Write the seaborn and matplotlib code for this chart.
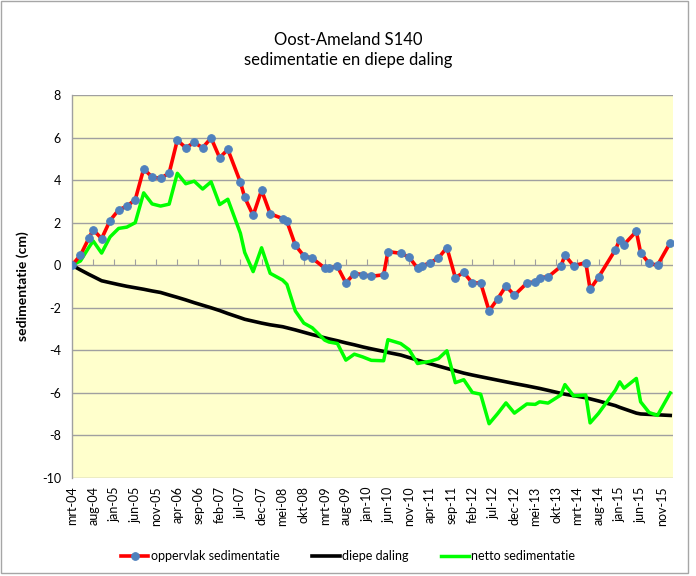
import matplotlib
matplotlib.use("Agg")
import matplotlib.pyplot as plt
import matplotlib.dates as mdates
from matplotlib.patches import Rectangle
import pandas as pd
import seaborn as sns

# Measurement dates (year-month)
dates = [
    "2004-03", "2004-05", "2004-07", "2004-08", "2004-10", "2004-12", "2005-02", "2005-04",
    "2005-06", "2005-08", "2005-10", "2005-12", "2006-02", "2006-04", "2006-06", "2006-08",
    "2006-10", "2006-12", "2007-02", "2007-04", "2007-07", "2007-08", "2007-10", "2007-12",
    "2008-02", "2008-05", "2008-06", "2008-08", "2008-10", "2008-12", "2009-03", "2009-04",
    "2009-06", "2009-08", "2009-10", "2009-12", "2010-02", "2010-05", "2010-06", "2010-09",
    "2010-11", "2011-01", "2011-02", "2011-04", "2011-06", "2011-08", "2011-10", "2011-12",
    "2012-02", "2012-04", "2012-06", "2012-08", "2012-10", "2012-12", "2013-03", "2013-05",
    "2013-06", "2013-08", "2013-11", "2013-12", "2014-02", "2014-05", "2014-06", "2014-08",
    "2014-12", "2015-01", "2015-02", "2015-05", "2015-06", "2015-08", "2015-10", "2016-01",
]

# Surface sedimentation (cm)
oppervlak = [
    0.0, 0.47, 1.27, 1.67, 1.25, 2.1, 2.6, 2.77, 3.08, 4.53, 4.14, 4.08, 4.33, 5.88, 5.52, 5.77,
    5.52, 5.98, 5.05, 5.44, 3.9, 3.19, 2.34, 3.52, 2.42, 2.19, 2.06, 0.94, 0.44, 0.33, -0.13, -0.13,
    -0.06, -0.83, -0.39, -0.44, -0.52, -0.45, 0.64, 0.56, 0.38, -0.14, -0.03, 0.11, 0.34, 0.83,
    -0.58, -0.34, -0.84, -0.83, -2.14, -1.59, -0.98, -1.41, -0.84, -0.78, -0.58, -0.55, -0.06, 0.47,
    -0.02, 0.12, -1.13, -0.56, 0.73, 1.2, 0.97, 1.59, 0.59, 0.09, 0.0, 1.06,
]

# Deep subsidence (cm)
diepe = [
    0.0, -0.22, -0.43, -0.53, -0.73, -0.82, -0.91, -0.99, -1.06, -1.13, -1.21, -1.28, -1.4, -1.51,
    -1.63, -1.76, -1.88, -2.0, -2.13, -2.27, -2.47, -2.54, -2.63, -2.72, -2.8, -2.89, -2.94, -3.04,
    -3.15, -3.26, -3.41, -3.46, -3.55, -3.65, -3.74, -3.84, -3.93, -4.05, -4.1, -4.22, -4.34, -4.46,
    -4.52, -4.63, -4.74, -4.85, -4.96, -5.07, -5.16, -5.24, -5.32, -5.4, -5.48, -5.56, -5.67, -5.75,
    -5.79, -5.88, -6.02, -6.06, -6.13, -6.23, -6.28, -6.38, -6.6, -6.68, -6.75, -6.95, -6.99, -7.01,
    -7.03, -7.06,
]

# Net sedimentation (cm)
netto = [
    0.0, 0.2, 0.84, 1.14, 0.57, 1.33, 1.73, 1.79, 2.0, 3.4, 2.88, 2.78, 2.87, 4.32, 3.83, 3.95,
    3.58, 3.92, 2.85, 3.1, 1.5, 0.6, -0.3, 0.82, -0.38, -0.7, -0.9, -2.15, -2.72, -2.94, -3.52, -3.61,
    -3.68, -4.46, -4.18, -4.31, -4.47, -4.49, -3.5, -3.68, -3.97, -4.62, -4.58, -4.52, -4.39, -4.02,
    -5.52, -5.38, -5.98, -6.06, -7.45, -6.98, -6.47, -6.95, -6.52, -6.54, -6.42, -6.48, -6.1, -5.61,
    -6.14, -6.1, -7.41, -6.96, -5.87, -5.48, -5.78, -5.32, -6.42, -6.92, -7.06, -6.0,
]

maanden = ["jan", "feb", "mrt", "apr", "mei", "jun", "jul", "aug", "sep", "okt", "nov", "dec"]
y_ticks = [8, 6, 4, 2, 0, -2, -4, -6, -8, -10]

plt.rcParams["font.family"] = ["Lato", "DejaVu Sans"]
plt.rcParams["axes.unicode_minus"] = False

df = pd.DataFrame({
    "datum": pd.to_datetime(dates, format="%Y-%m"),
    "oppervlak": oppervlak,
    "diepe": diepe,
    "netto": netto,
})

fig = plt.figure(figsize=(6.96, 5.76), dpi=100)
ax = fig.add_axes([72 / 696, 1 - 478 / 576, (673 - 72) / 696, (478 - 95) / 576])
ax.set_facecolor("#FFFFCC")

sns.lineplot(data=df, x="datum", y="oppervlak", ax=ax, color="#FF0000", lw=2.6,
             marker="o", markersize=5.5, markerfacecolor="#4F81BD", markeredgecolor="#4F81BD",
             label="oppervlak sedimentatie", zorder=4)
sns.lineplot(data=df, x="datum", y="diepe", ax=ax, color="black", lw=2.6,
             label="diepe daling", zorder=3)
sns.lineplot(data=df, x="datum", y="netto", ax=ax, color="#00FF00", lw=2.5,
             label="netto sedimentatie", zorder=3)

ax.set_ylim(-10, 8)
ax.set_yticks(y_ticks)
ax.set_xlim(pd.Timestamp("2004-03-01"), pd.Timestamp("2016-01-21"))

tick_dates = pd.date_range("2004-03-01", "2015-11-01", freq="5MS")
tick_labels = [f"{maanden[d.month - 1]}-{d.year % 100:02d}" for d in tick_dates]
ax.set_xticks(mdates.date2num(tick_dates))
ax.set_xticklabels(tick_labels, rotation=90, fontsize=9)
ax.tick_params(axis="x", length=0, pad=6)
ax.tick_params(axis="y", length=0, labelsize=9, pad=8)
ax.set_xlabel("")
ax.set_ylabel("sedimentatie (cm)", fontsize=10, fontweight="bold", labelpad=9)

ax.grid(axis="y", color="#A0A0A0", lw=1)
ax.grid(axis="x", visible=False)
ax.set_axisbelow(True)
for side in ["top", "right", "bottom"]:
    ax.spines[side].set_visible(False)
ax.spines["left"].set_color("#A0A0A0")
ax.spines["left"].set_linewidth(1)

# category axis line with tick marks crossing at zero
sec = ax.secondary_xaxis(10 / 18)
sec.set_xticks(mdates.date2num(tick_dates))
sec.tick_params(axis="x", direction="out", length=4, color="#A0A0A0", labelbottom=False,
                labeltop=False)
sec.spines["bottom"].set_color("#A0A0A0")
sec.spines["top"].set_visible(False)
sec.set_xticklabels([])

ax.get_legend().remove()
handles, labels = ax.get_legend_handles_labels()
fig.legend(handles, labels, loc="center", bbox_to_anchor=(0.5, 1 - 556 / 576), ncol=3,
           frameon=False, fontsize=9, handlelength=2.2, handletextpad=0.2, columnspacing=2.6)

fig.text(0.5, 1 - 40 / 576, "Oost-Ameland S140", ha="center", va="center", fontsize=12)
fig.text(0.5, 1 - 60 / 576, "sedimentatie en diepe daling", ha="center", va="center", fontsize=12)

fig.patches.append(Rectangle((1 / 696, 3 / 576), 687 / 696, 572 / 576, transform=fig.transFigure,
                             fill=False, edgecolor="#A6A6A6", lw=1))

fig.savefig("out.png", dpi=100)
